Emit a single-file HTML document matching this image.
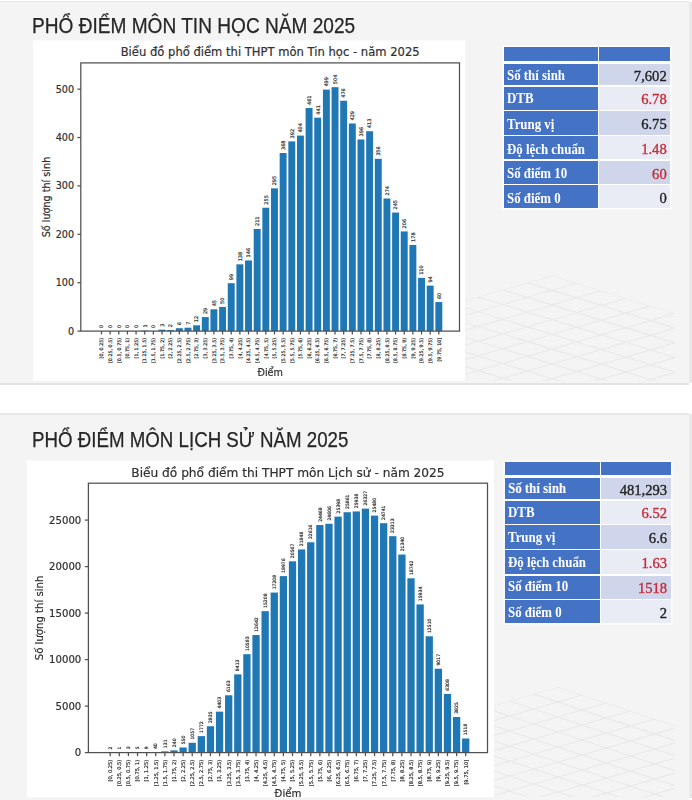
<!DOCTYPE html>
<html><head><meta charset="utf-8"><title>Phổ điểm 2025</title>
<style>
html,body{margin:0;padding:0}
body{width:692px;height:800px;position:relative;overflow:hidden;background:#ffffff;font-family:"Liberation Sans",sans-serif}
.slide{position:absolute;background:#f4f4f4}
.s1{left:0;top:1px;width:689px;height:381px;border-top:1.5px solid #e6e6e6;border-bottom:2.5px solid #e4e4e4}
.s2{left:0;top:412.5px;width:689px;height:385px;border-top:2.5px solid #e8e8e8;border-bottom:2px solid #e6e6e6}
.edge{position:absolute;left:689px;width:3px;background:#e9e9e9}
.ttl{position:absolute;left:31.6px;margin:0;font-weight:normal;color:#262626;white-space:nowrap;line-height:1;transform-origin:0 0;-webkit-text-stroke:0.25px #262626;font-family:"Liberation Sans","DejaVu Sans",sans-serif}
svg{position:absolute;left:0;top:0}
svg text{stroke:#303030;stroke-width:0.2px}
body>*{filter:blur(0.4px)}
.tb{position:absolute;background:#fff;box-shadow:0 0 0 1.5px #fdfdfd}
.c{position:absolute;box-sizing:border-box;white-space:nowrap;overflow:hidden}
.h{background:#4472c4}
.l{background:#4472c4;color:#fff;font-family:"Liberation Serif",serif;font-weight:bold;font-size:14px;padding-left:3.2px;padding-top:2.5px}
.l span{display:inline-block;transform:scaleX(0.92);transform-origin:0 50%}
.v{font-family:"Liberation Serif",serif;font-size:14.6px;text-align:right;padding-right:3.6px;padding-top:2px;-webkit-text-stroke:0.35px currentColor}
</style></head><body>
<div class="slide s1"></div>
<div class="slide s2"></div>
<div class="edge" style="top:2px;height:381px"></div>
<div class="edge" style="top:414px;height:384px"></div>
<h1 class="ttl" style="top:15.6px;font-size:21.5px;transform:scaleX(0.888)">PHỔ ĐIỂM MÔN TIN HỌC NĂM 2025</h1>
<h1 class="ttl" style="top:429.7px;font-size:21.5px;transform:scaleX(0.87)">PHỔ ĐIỂM MÔN LỊCH SỬ NĂM 2025</h1>
<svg width="692" height="800" viewBox="0 0 692 800" font-family='"DejaVu Sans", "Liberation Sans", sans-serif'>
<clipPath id="k1"><rect x="0" y="3" width="689" height="379"/></clipPath><clipPath id="k2"><rect x="0" y="415" width="689" height="382"/></clipPath><g stroke="#e9e9e9" stroke-width="1.1" fill="none" clip-path="url(#k1)"><clipPath id="g1"><polygon points="552,275.5 675,313.38 675,381 440,381 440,308.09"/></clipPath><g clip-path="url(#g1)"><line x1="440" y1="241" x2="675" y2="313.38"/><line x1="440" y1="308.09" x2="675" y2="239.71"/><line x1="440" y1="255.74" x2="675" y2="328.12"/><line x1="440" y1="322.83" x2="675" y2="254.44"/><line x1="440" y1="270.47" x2="675" y2="342.85"/><line x1="440" y1="337.56" x2="675" y2="269.18"/><line x1="440" y1="285.21" x2="675" y2="357.59"/><line x1="440" y1="352.3" x2="675" y2="283.91"/><line x1="440" y1="299.95" x2="675" y2="372.33"/><line x1="440" y1="367.03" x2="675" y2="298.65"/><line x1="440" y1="314.68" x2="675" y2="387.06"/><line x1="440" y1="381.77" x2="675" y2="313.38"/><line x1="440" y1="329.42" x2="675" y2="401.8"/><line x1="440" y1="396.5" x2="675" y2="328.12"/><line x1="440" y1="344.15" x2="675" y2="416.53"/><line x1="440" y1="411.24" x2="675" y2="342.85"/><line x1="440" y1="358.89" x2="675" y2="431.27"/><line x1="440" y1="425.98" x2="675" y2="357.59"/><line x1="440" y1="373.62" x2="675" y2="446"/><line x1="440" y1="440.71" x2="675" y2="372.33"/><line x1="440" y1="388.36" x2="675" y2="460.74"/><line x1="440" y1="455.45" x2="675" y2="387.06"/><line x1="440" y1="403.09" x2="675" y2="475.47"/><line x1="440" y1="470.18" x2="675" y2="401.8"/><line x1="440" y1="417.83" x2="675" y2="490.21"/><line x1="440" y1="484.92" x2="675" y2="416.53"/><line x1="440" y1="432.56" x2="675" y2="504.94"/><line x1="440" y1="499.65" x2="675" y2="431.27"/><line x1="440" y1="447.3" x2="675" y2="519.68"/><line x1="440" y1="514.39" x2="675" y2="446"/><line x1="440" y1="462.04" x2="675" y2="534.41"/><line x1="440" y1="529.12" x2="675" y2="460.74"/><line x1="440" y1="476.77" x2="675" y2="549.15"/><line x1="440" y1="543.86" x2="675" y2="475.47"/><line x1="440" y1="491.51" x2="675" y2="563.89"/><line x1="440" y1="558.59" x2="675" y2="490.21"/><line x1="440" y1="506.24" x2="675" y2="578.62"/><line x1="440" y1="573.33" x2="675" y2="504.94"/></g></g>
<g stroke="#e9e9e9" stroke-width="1.1" fill="none" clip-path="url(#k2)"><clipPath id="g2"><polygon points="558,687 675,725.61 675,797 440,797 440,721.22"/></clipPath><g clip-path="url(#g2)"><line x1="440" y1="648.06" x2="675" y2="725.61"/><line x1="440" y1="721.22" x2="675" y2="653.07"/><line x1="440" y1="663.06" x2="675" y2="740.61"/><line x1="440" y1="736.22" x2="675" y2="668.07"/><line x1="440" y1="678.07" x2="675" y2="755.62"/><line x1="440" y1="751.23" x2="675" y2="683.08"/><line x1="440" y1="693.07" x2="675" y2="770.62"/><line x1="440" y1="766.23" x2="675" y2="698.08"/><line x1="440" y1="708.08" x2="675" y2="785.63"/><line x1="440" y1="781.24" x2="675" y2="713.09"/><line x1="440" y1="723.08" x2="675" y2="800.63"/><line x1="440" y1="796.24" x2="675" y2="728.09"/><line x1="440" y1="738.08" x2="675" y2="815.63"/><line x1="440" y1="811.24" x2="675" y2="743.09"/><line x1="440" y1="753.09" x2="675" y2="830.64"/><line x1="440" y1="826.25" x2="675" y2="758.1"/><line x1="440" y1="768.09" x2="675" y2="845.64"/><line x1="440" y1="841.25" x2="675" y2="773.1"/><line x1="440" y1="783.1" x2="675" y2="860.65"/><line x1="440" y1="856.26" x2="675" y2="788.11"/><line x1="440" y1="798.1" x2="675" y2="875.65"/><line x1="440" y1="871.26" x2="675" y2="803.11"/><line x1="440" y1="813.1" x2="675" y2="890.65"/><line x1="440" y1="886.26" x2="675" y2="818.11"/><line x1="440" y1="828.11" x2="675" y2="905.66"/><line x1="440" y1="901.27" x2="675" y2="833.12"/><line x1="440" y1="843.11" x2="675" y2="920.66"/><line x1="440" y1="916.27" x2="675" y2="848.12"/><line x1="440" y1="858.12" x2="675" y2="935.67"/><line x1="440" y1="931.28" x2="675" y2="863.13"/><line x1="440" y1="873.12" x2="675" y2="950.67"/><line x1="440" y1="946.28" x2="675" y2="878.13"/><line x1="440" y1="888.12" x2="675" y2="965.67"/><line x1="440" y1="961.28" x2="675" y2="893.13"/><line x1="440" y1="903.13" x2="675" y2="980.68"/><line x1="440" y1="976.29" x2="675" y2="908.14"/><line x1="440" y1="918.13" x2="675" y2="995.68"/><line x1="440" y1="991.29" x2="675" y2="923.14"/></g></g>
<rect x="33" y="40.5" width="432" height="340.5" fill="#ffffff"/>
<g fill="#1f77b4"><rect x="141.26" y="330.62" width="6.92" height="0.48"/><rect x="158.56" y="329.65" width="6.92" height="1.45"/><rect x="167.21" y="330.13" width="6.92" height="0.97"/><rect x="175.86" y="328.2" width="6.92" height="2.9"/><rect x="184.51" y="327.71" width="6.92" height="3.39"/><rect x="193.16" y="325.29" width="6.92" height="5.81"/><rect x="201.81" y="317.07" width="6.92" height="14.03"/><rect x="210.46" y="309.32" width="6.92" height="21.78"/><rect x="219.11" y="306.9" width="6.92" height="24.2"/><rect x="227.76" y="283.19" width="6.92" height="47.91"/><rect x="236.41" y="264.32" width="6.92" height="66.78"/><rect x="245.06" y="260.44" width="6.92" height="70.66"/><rect x="253.71" y="228.99" width="6.92" height="102.11"/><rect x="262.36" y="207.7" width="6.92" height="123.4"/><rect x="271.02" y="188.34" width="6.92" height="142.76"/><rect x="279.67" y="153.01" width="6.92" height="178.09"/><rect x="288.32" y="141.4" width="6.92" height="189.7"/><rect x="296.97" y="135.59" width="6.92" height="195.51"/><rect x="305.62" y="108" width="6.92" height="223.1"/><rect x="314.27" y="117.68" width="6.92" height="213.42"/><rect x="322.92" y="89.61" width="6.92" height="241.49"/><rect x="331.57" y="87.19" width="6.92" height="243.91"/><rect x="340.22" y="100.74" width="6.92" height="230.36"/><rect x="348.87" y="123.49" width="6.92" height="207.61"/><rect x="357.52" y="139.46" width="6.92" height="191.64"/><rect x="366.17" y="131.23" width="6.92" height="199.87"/><rect x="374.82" y="158.82" width="6.92" height="172.28"/><rect x="383.47" y="198.5" width="6.92" height="132.6"/><rect x="392.12" y="212.53" width="6.92" height="118.57"/><rect x="400.77" y="231.41" width="6.92" height="99.69"/><rect x="409.42" y="244.96" width="6.92" height="86.14"/><rect x="418.07" y="277.87" width="6.92" height="53.23"/><rect x="426.72" y="285.61" width="6.92" height="45.49"/><rect x="435.37" y="302.06" width="6.92" height="29.04"/></g>
<rect x="80.8" y="62.9" width="378.7" height="268.2" fill="none" stroke="#505050" stroke-width="1.25"/>
<g stroke="#505050" stroke-width="1.25"><line x1="77.43" y1="331.1" x2="80.8" y2="331.1"/><line x1="77.43" y1="282.71" x2="80.8" y2="282.71"/><line x1="77.43" y1="234.31" x2="80.8" y2="234.31"/><line x1="77.43" y1="185.92" x2="80.8" y2="185.92"/><line x1="77.43" y1="137.52" x2="80.8" y2="137.52"/><line x1="77.43" y1="89.13" x2="80.8" y2="89.13"/><line x1="101.47" y1="331.1" x2="101.47" y2="334.47"/><line x1="110.12" y1="331.1" x2="110.12" y2="334.47"/><line x1="118.77" y1="331.1" x2="118.77" y2="334.47"/><line x1="127.42" y1="331.1" x2="127.42" y2="334.47"/><line x1="136.07" y1="331.1" x2="136.07" y2="334.47"/><line x1="144.72" y1="331.1" x2="144.72" y2="334.47"/><line x1="153.37" y1="331.1" x2="153.37" y2="334.47"/><line x1="162.02" y1="331.1" x2="162.02" y2="334.47"/><line x1="170.67" y1="331.1" x2="170.67" y2="334.47"/><line x1="179.32" y1="331.1" x2="179.32" y2="334.47"/><line x1="187.97" y1="331.1" x2="187.97" y2="334.47"/><line x1="196.62" y1="331.1" x2="196.62" y2="334.47"/><line x1="205.27" y1="331.1" x2="205.27" y2="334.47"/><line x1="213.92" y1="331.1" x2="213.92" y2="334.47"/><line x1="222.57" y1="331.1" x2="222.57" y2="334.47"/><line x1="231.22" y1="331.1" x2="231.22" y2="334.47"/><line x1="239.87" y1="331.1" x2="239.87" y2="334.47"/><line x1="248.52" y1="331.1" x2="248.52" y2="334.47"/><line x1="257.17" y1="331.1" x2="257.17" y2="334.47"/><line x1="265.82" y1="331.1" x2="265.82" y2="334.47"/><line x1="274.48" y1="331.1" x2="274.48" y2="334.47"/><line x1="283.13" y1="331.1" x2="283.13" y2="334.47"/><line x1="291.78" y1="331.1" x2="291.78" y2="334.47"/><line x1="300.43" y1="331.1" x2="300.43" y2="334.47"/><line x1="309.08" y1="331.1" x2="309.08" y2="334.47"/><line x1="317.73" y1="331.1" x2="317.73" y2="334.47"/><line x1="326.38" y1="331.1" x2="326.38" y2="334.47"/><line x1="335.03" y1="331.1" x2="335.03" y2="334.47"/><line x1="343.68" y1="331.1" x2="343.68" y2="334.47"/><line x1="352.33" y1="331.1" x2="352.33" y2="334.47"/><line x1="360.98" y1="331.1" x2="360.98" y2="334.47"/><line x1="369.63" y1="331.1" x2="369.63" y2="334.47"/><line x1="378.28" y1="331.1" x2="378.28" y2="334.47"/><line x1="386.93" y1="331.1" x2="386.93" y2="334.47"/><line x1="395.58" y1="331.1" x2="395.58" y2="334.47"/><line x1="404.23" y1="331.1" x2="404.23" y2="334.47"/><line x1="412.88" y1="331.1" x2="412.88" y2="334.47"/><line x1="421.53" y1="331.1" x2="421.53" y2="334.47"/><line x1="430.18" y1="331.1" x2="430.18" y2="334.47"/><line x1="438.83" y1="331.1" x2="438.83" y2="334.47"/></g>
<g font-size="9.64" text-anchor="end" fill="#303030"><text x="74.05" y="334.61">0</text><text x="74.05" y="286.21">100</text><text x="74.05" y="237.82">200</text><text x="74.05" y="189.43">300</text><text x="74.05" y="141.03">400</text><text x="74.05" y="92.64">500</text></g>
<g font-size="4.82" text-anchor="end" fill="#303030"><text transform="translate(103.21 337.85) rotate(-90)">[0, 0.25)</text><text transform="translate(111.86 337.85) rotate(-90)">[0.25, 0.5)</text><text transform="translate(120.51 337.85) rotate(-90)">[0.5, 0.75)</text><text transform="translate(129.16 337.85) rotate(-90)">[0.75, 1)</text><text transform="translate(137.81 337.85) rotate(-90)">[1, 1.25)</text><text transform="translate(146.46 337.85) rotate(-90)">[1.25, 1.5)</text><text transform="translate(155.11 337.85) rotate(-90)">[1.5, 1.75)</text><text transform="translate(163.76 337.85) rotate(-90)">[1.75, 2)</text><text transform="translate(172.41 337.85) rotate(-90)">[2, 2.25)</text><text transform="translate(181.06 337.85) rotate(-90)">[2.25, 2.5)</text><text transform="translate(189.71 337.85) rotate(-90)">[2.5, 2.75)</text><text transform="translate(198.36 337.85) rotate(-90)">[2.75, 3)</text><text transform="translate(207.01 337.85) rotate(-90)">[3, 3.25)</text><text transform="translate(215.66 337.85) rotate(-90)">[3.25, 3.5)</text><text transform="translate(224.31 337.85) rotate(-90)">[3.5, 3.75)</text><text transform="translate(232.96 337.85) rotate(-90)">[3.75, 4)</text><text transform="translate(241.61 337.85) rotate(-90)">[4, 4.25)</text><text transform="translate(250.26 337.85) rotate(-90)">[4.25, 4.5)</text><text transform="translate(258.91 337.85) rotate(-90)">[4.5, 4.75)</text><text transform="translate(267.56 337.85) rotate(-90)">[4.75, 5)</text><text transform="translate(276.21 337.85) rotate(-90)">[5, 5.25)</text><text transform="translate(284.86 337.85) rotate(-90)">[5.25, 5.5)</text><text transform="translate(293.51 337.85) rotate(-90)">[5.5, 5.75)</text><text transform="translate(302.16 337.85) rotate(-90)">[5.75, 6)</text><text transform="translate(310.81 337.85) rotate(-90)">[6, 6.25)</text><text transform="translate(319.46 337.85) rotate(-90)">[6.25, 6.5)</text><text transform="translate(328.11 337.85) rotate(-90)">[6.5, 6.75)</text><text transform="translate(336.76 337.85) rotate(-90)">[6.75, 7)</text><text transform="translate(345.41 337.85) rotate(-90)">[7, 7.25)</text><text transform="translate(354.06 337.85) rotate(-90)">[7.25, 7.5)</text><text transform="translate(362.71 337.85) rotate(-90)">[7.5, 7.75)</text><text transform="translate(371.36 337.85) rotate(-90)">[7.75, 8)</text><text transform="translate(380.01 337.85) rotate(-90)">[8, 8.25)</text><text transform="translate(388.66 337.85) rotate(-90)">[8.25, 8.5)</text><text transform="translate(397.31 337.85) rotate(-90)">[8.5, 8.75)</text><text transform="translate(405.96 337.85) rotate(-90)">[8.75, 9)</text><text transform="translate(414.61 337.85) rotate(-90)">[9, 9.25)</text><text transform="translate(423.26 337.85) rotate(-90)">[9.25, 9.5)</text><text transform="translate(431.91 337.85) rotate(-90)">[9.5, 9.75)</text><text transform="translate(440.56 337.85) rotate(-90)">[9.75, 10]</text></g>
<g font-size="5.01" text-anchor="start" fill="#303030"><text transform="translate(103.28 328.1) rotate(-90)">0</text><text transform="translate(111.93 328.1) rotate(-90)">0</text><text transform="translate(120.58 328.1) rotate(-90)">0</text><text transform="translate(129.23 328.1) rotate(-90)">0</text><text transform="translate(137.88 328.1) rotate(-90)">0</text><text transform="translate(146.53 327.62) rotate(-90)">1</text><text transform="translate(155.18 328.1) rotate(-90)">0</text><text transform="translate(163.83 326.65) rotate(-90)">3</text><text transform="translate(172.48 327.13) rotate(-90)">2</text><text transform="translate(181.13 325.2) rotate(-90)">6</text><text transform="translate(189.78 324.71) rotate(-90)">7</text><text transform="translate(198.43 322.29) rotate(-90)">12</text><text transform="translate(207.08 314.07) rotate(-90)">29</text><text transform="translate(215.73 306.32) rotate(-90)">45</text><text transform="translate(224.38 303.9) rotate(-90)">50</text><text transform="translate(233.03 280.19) rotate(-90)">99</text><text transform="translate(241.68 261.32) rotate(-90)">138</text><text transform="translate(250.33 257.44) rotate(-90)">146</text><text transform="translate(258.98 225.99) rotate(-90)">211</text><text transform="translate(267.63 204.7) rotate(-90)">255</text><text transform="translate(276.28 185.34) rotate(-90)">295</text><text transform="translate(284.93 150.01) rotate(-90)">368</text><text transform="translate(293.58 138.4) rotate(-90)">392</text><text transform="translate(302.23 132.59) rotate(-90)">404</text><text transform="translate(310.88 105) rotate(-90)">461</text><text transform="translate(319.53 114.68) rotate(-90)">441</text><text transform="translate(328.18 86.61) rotate(-90)">499</text><text transform="translate(336.83 84.19) rotate(-90)">504</text><text transform="translate(345.48 97.74) rotate(-90)">476</text><text transform="translate(354.13 120.49) rotate(-90)">429</text><text transform="translate(362.78 136.46) rotate(-90)">396</text><text transform="translate(371.43 128.23) rotate(-90)">413</text><text transform="translate(380.08 155.82) rotate(-90)">356</text><text transform="translate(388.73 195.5) rotate(-90)">274</text><text transform="translate(397.38 209.53) rotate(-90)">245</text><text transform="translate(406.03 228.41) rotate(-90)">206</text><text transform="translate(414.68 241.96) rotate(-90)">178</text><text transform="translate(423.33 274.87) rotate(-90)">110</text><text transform="translate(431.98 282.61) rotate(-90)">94</text><text transform="translate(440.63 299.06) rotate(-90)">60</text></g>
<text x="270.15" y="56.4" font-size="11.57" text-anchor="middle" fill="#303030">Biểu đồ phổ điểm thi THPT môn Tin học - năm 2025</text>
<text transform="translate(50 197) rotate(-90)" font-size="9.64" text-anchor="middle" fill="#303030">Số lượng thí sinh</text>
<text x="270.15" y="375.5" font-size="9.64" text-anchor="middle" fill="#303030">Điểm</text>
<rect x="27" y="460.5" width="467" height="336.7" fill="#ffffff"/>
<g fill="#1f77b4"><rect x="106.54" y="752.58" width="7.29" height="0.02"/><rect x="115.66" y="752.59" width="7.29" height="0.01"/><rect x="124.77" y="752.57" width="7.29" height="0.03"/><rect x="133.89" y="752.55" width="7.29" height="0.05"/><rect x="143.01" y="752.52" width="7.29" height="0.08"/><rect x="152.12" y="752.23" width="7.29" height="0.37"/><rect x="161.24" y="751.38" width="7.29" height="1.22"/><rect x="170.35" y="750.37" width="7.29" height="2.23"/><rect x="179.47" y="747.49" width="7.29" height="5.11"/><rect x="188.59" y="742.77" width="7.29" height="9.83"/><rect x="197.7" y="736.12" width="7.29" height="16.48"/><rect x="206.82" y="726.23" width="7.29" height="26.37"/><rect x="215.93" y="711.65" width="7.29" height="40.95"/><rect x="225.05" y="695.28" width="7.29" height="57.32"/><rect x="234.17" y="674.36" width="7.29" height="78.24"/><rect x="243.28" y="654.18" width="7.29" height="98.42"/><rect x="252.4" y="635.03" width="7.29" height="117.57"/><rect x="261.51" y="611.17" width="7.29" height="141.43"/><rect x="270.63" y="592.57" width="7.29" height="160.03"/><rect x="279.75" y="576.12" width="7.29" height="176.48"/><rect x="288.86" y="561.33" width="7.29" height="191.27"/><rect x="297.98" y="549.42" width="7.29" height="203.18"/><rect x="307.09" y="542.27" width="7.29" height="210.33"/><rect x="316.21" y="525.05" width="7.29" height="227.55"/><rect x="325.33" y="523.77" width="7.29" height="228.83"/><rect x="334.44" y="516.61" width="7.29" height="235.99"/><rect x="343.56" y="512.22" width="7.29" height="240.38"/><rect x="352.67" y="511.43" width="7.29" height="241.17"/><rect x="361.79" y="508.63" width="7.29" height="243.97"/><rect x="370.91" y="515.61" width="7.29" height="236.99"/><rect x="380.02" y="523.19" width="7.29" height="229.41"/><rect x="389.14" y="536.17" width="7.29" height="216.43"/><rect x="398.25" y="554.53" width="7.29" height="198.07"/><rect x="407.37" y="578.3" width="7.29" height="174.3"/><rect x="416.49" y="604.42" width="7.29" height="148.18"/><rect x="425.6" y="636.26" width="7.29" height="116.34"/><rect x="434.72" y="668.74" width="7.29" height="83.86"/><rect x="443.83" y="693.94" width="7.29" height="58.66"/><rect x="452.95" y="717.03" width="7.29" height="35.57"/><rect x="462.07" y="738.48" width="7.29" height="14.12"/></g>
<rect x="88.4" y="483.2" width="399.1" height="269.4" fill="none" stroke="#505050" stroke-width="1.25"/>
<g stroke="#505050" stroke-width="1.25"><line x1="84.85" y1="752.6" x2="88.4" y2="752.6"/><line x1="84.85" y1="706.1" x2="88.4" y2="706.1"/><line x1="84.85" y1="659.6" x2="88.4" y2="659.6"/><line x1="84.85" y1="613.1" x2="88.4" y2="613.1"/><line x1="84.85" y1="566.6" x2="88.4" y2="566.6"/><line x1="84.85" y1="520.1" x2="88.4" y2="520.1"/><line x1="110.19" y1="752.6" x2="110.19" y2="756.15"/><line x1="119.3" y1="752.6" x2="119.3" y2="756.15"/><line x1="128.42" y1="752.6" x2="128.42" y2="756.15"/><line x1="137.54" y1="752.6" x2="137.54" y2="756.15"/><line x1="146.65" y1="752.6" x2="146.65" y2="756.15"/><line x1="155.77" y1="752.6" x2="155.77" y2="756.15"/><line x1="164.88" y1="752.6" x2="164.88" y2="756.15"/><line x1="174" y1="752.6" x2="174" y2="756.15"/><line x1="183.12" y1="752.6" x2="183.12" y2="756.15"/><line x1="192.23" y1="752.6" x2="192.23" y2="756.15"/><line x1="201.35" y1="752.6" x2="201.35" y2="756.15"/><line x1="210.46" y1="752.6" x2="210.46" y2="756.15"/><line x1="219.58" y1="752.6" x2="219.58" y2="756.15"/><line x1="228.7" y1="752.6" x2="228.7" y2="756.15"/><line x1="237.81" y1="752.6" x2="237.81" y2="756.15"/><line x1="246.93" y1="752.6" x2="246.93" y2="756.15"/><line x1="256.04" y1="752.6" x2="256.04" y2="756.15"/><line x1="265.16" y1="752.6" x2="265.16" y2="756.15"/><line x1="274.28" y1="752.6" x2="274.28" y2="756.15"/><line x1="283.39" y1="752.6" x2="283.39" y2="756.15"/><line x1="292.51" y1="752.6" x2="292.51" y2="756.15"/><line x1="301.62" y1="752.6" x2="301.62" y2="756.15"/><line x1="310.74" y1="752.6" x2="310.74" y2="756.15"/><line x1="319.86" y1="752.6" x2="319.86" y2="756.15"/><line x1="328.97" y1="752.6" x2="328.97" y2="756.15"/><line x1="338.09" y1="752.6" x2="338.09" y2="756.15"/><line x1="347.2" y1="752.6" x2="347.2" y2="756.15"/><line x1="356.32" y1="752.6" x2="356.32" y2="756.15"/><line x1="365.44" y1="752.6" x2="365.44" y2="756.15"/><line x1="374.55" y1="752.6" x2="374.55" y2="756.15"/><line x1="383.67" y1="752.6" x2="383.67" y2="756.15"/><line x1="392.78" y1="752.6" x2="392.78" y2="756.15"/><line x1="401.9" y1="752.6" x2="401.9" y2="756.15"/><line x1="411.02" y1="752.6" x2="411.02" y2="756.15"/><line x1="420.13" y1="752.6" x2="420.13" y2="756.15"/><line x1="429.25" y1="752.6" x2="429.25" y2="756.15"/><line x1="438.36" y1="752.6" x2="438.36" y2="756.15"/><line x1="447.48" y1="752.6" x2="447.48" y2="756.15"/><line x1="456.6" y1="752.6" x2="456.6" y2="756.15"/><line x1="465.71" y1="752.6" x2="465.71" y2="756.15"/></g>
<g font-size="10.15" text-anchor="end" fill="#303030"><text x="81.3" y="756.29">0</text><text x="81.3" y="709.8">5000</text><text x="81.3" y="663.3">10000</text><text x="81.3" y="616.8">15000</text><text x="81.3" y="570.3">20000</text><text x="81.3" y="523.8">25000</text></g>
<g font-size="5.07" text-anchor="end" fill="#303030"><text transform="translate(112.01 759.71) rotate(-90)">[0, 0.25)</text><text transform="translate(121.13 759.71) rotate(-90)">[0.25, 0.5)</text><text transform="translate(130.25 759.71) rotate(-90)">[0.5, 0.75)</text><text transform="translate(139.36 759.71) rotate(-90)">[0.75, 1)</text><text transform="translate(148.48 759.71) rotate(-90)">[1, 1.25)</text><text transform="translate(157.59 759.71) rotate(-90)">[1.25, 1.5)</text><text transform="translate(166.71 759.71) rotate(-90)">[1.5, 1.75)</text><text transform="translate(175.83 759.71) rotate(-90)">[1.75, 2)</text><text transform="translate(184.94 759.71) rotate(-90)">[2, 2.25)</text><text transform="translate(194.06 759.71) rotate(-90)">[2.25, 2.5)</text><text transform="translate(203.17 759.71) rotate(-90)">[2.5, 2.75)</text><text transform="translate(212.29 759.71) rotate(-90)">[2.75, 3)</text><text transform="translate(221.41 759.71) rotate(-90)">[3, 3.25)</text><text transform="translate(230.52 759.71) rotate(-90)">[3.25, 3.5)</text><text transform="translate(239.64 759.71) rotate(-90)">[3.5, 3.75)</text><text transform="translate(248.75 759.71) rotate(-90)">[3.75, 4)</text><text transform="translate(257.87 759.71) rotate(-90)">[4, 4.25)</text><text transform="translate(266.99 759.71) rotate(-90)">[4.25, 4.5)</text><text transform="translate(276.1 759.71) rotate(-90)">[4.5, 4.75)</text><text transform="translate(285.22 759.71) rotate(-90)">[4.75, 5)</text><text transform="translate(294.34 759.71) rotate(-90)">[5, 5.25)</text><text transform="translate(303.45 759.71) rotate(-90)">[5.25, 5.5)</text><text transform="translate(312.57 759.71) rotate(-90)">[5.5, 5.75)</text><text transform="translate(321.68 759.71) rotate(-90)">[5.75, 6)</text><text transform="translate(330.8 759.71) rotate(-90)">[6, 6.25)</text><text transform="translate(339.92 759.71) rotate(-90)">[6.25, 6.5)</text><text transform="translate(349.03 759.71) rotate(-90)">[6.5, 6.75)</text><text transform="translate(358.15 759.71) rotate(-90)">[6.75, 7)</text><text transform="translate(367.26 759.71) rotate(-90)">[7, 7.25)</text><text transform="translate(376.38 759.71) rotate(-90)">[7.25, 7.5)</text><text transform="translate(385.5 759.71) rotate(-90)">[7.5, 7.75)</text><text transform="translate(394.61 759.71) rotate(-90)">[7.75, 8)</text><text transform="translate(403.73 759.71) rotate(-90)">[8, 8.25)</text><text transform="translate(412.84 759.71) rotate(-90)">[8.25, 8.5)</text><text transform="translate(421.96 759.71) rotate(-90)">[8.5, 8.75)</text><text transform="translate(431.08 759.71) rotate(-90)">[8.75, 9)</text><text transform="translate(440.19 759.71) rotate(-90)">[9, 9.25)</text><text transform="translate(449.31 759.71) rotate(-90)">[9.25, 9.5)</text><text transform="translate(458.42 759.71) rotate(-90)">[9.5, 9.75)</text><text transform="translate(467.54 759.71) rotate(-90)">[9.75, 10]</text></g>
<g font-size="4.57" text-anchor="start" fill="#303030"><text transform="translate(111.83 749.38) rotate(-90)">2</text><text transform="translate(120.95 749.39) rotate(-90)">1</text><text transform="translate(130.06 749.37) rotate(-90)">3</text><text transform="translate(139.18 749.35) rotate(-90)">5</text><text transform="translate(148.3 749.32) rotate(-90)">9</text><text transform="translate(157.41 749.03) rotate(-90)">40</text><text transform="translate(166.53 748.18) rotate(-90)">131</text><text transform="translate(175.64 747.17) rotate(-90)">240</text><text transform="translate(184.76 744.29) rotate(-90)">550</text><text transform="translate(193.88 739.57) rotate(-90)">1057</text><text transform="translate(202.99 732.92) rotate(-90)">1772</text><text transform="translate(212.11 723.03) rotate(-90)">2835</text><text transform="translate(221.22 708.45) rotate(-90)">4403</text><text transform="translate(230.34 692.08) rotate(-90)">6163</text><text transform="translate(239.46 671.16) rotate(-90)">8413</text><text transform="translate(248.57 650.98) rotate(-90)">10583</text><text transform="translate(257.69 631.83) rotate(-90)">12642</text><text transform="translate(266.8 607.97) rotate(-90)">15208</text><text transform="translate(275.92 589.37) rotate(-90)">17208</text><text transform="translate(285.04 572.92) rotate(-90)">18976</text><text transform="translate(294.15 558.13) rotate(-90)">20567</text><text transform="translate(303.27 546.22) rotate(-90)">21848</text><text transform="translate(312.38 539.07) rotate(-90)">22616</text><text transform="translate(321.5 521.85) rotate(-90)">24468</text><text transform="translate(330.62 520.57) rotate(-90)">24606</text><text transform="translate(339.73 513.41) rotate(-90)">25398</text><text transform="translate(348.85 509.02) rotate(-90)">25861</text><text transform="translate(357.96 508.23) rotate(-90)">25938</text><text transform="translate(367.08 505.43) rotate(-90)">26327</text><text transform="translate(376.2 512.41) rotate(-90)">25480</text><text transform="translate(385.31 519.99) rotate(-90)">24741</text><text transform="translate(394.43 532.97) rotate(-90)">23313</text><text transform="translate(403.54 551.33) rotate(-90)">21340</text><text transform="translate(412.66 575.1) rotate(-90)">18742</text><text transform="translate(421.78 601.22) rotate(-90)">15934</text><text transform="translate(430.89 633.06) rotate(-90)">12510</text><text transform="translate(440.01 665.54) rotate(-90)">9017</text><text transform="translate(449.12 690.74) rotate(-90)">6308</text><text transform="translate(458.24 713.83) rotate(-90)">3825</text><text transform="translate(467.36 735.28) rotate(-90)">1518</text></g>
<text x="287.95" y="477.4" font-size="12.18" text-anchor="middle" fill="#303030">Biểu đồ phổ điểm thi THPT môn Lịch sử - năm 2025</text>
<text transform="translate(43.1 617.9) rotate(-90)" font-size="10.15" text-anchor="middle" fill="#303030">Số lượng thí sinh</text>
<text x="287.95" y="796.5" font-size="10.15" text-anchor="middle" fill="#303030">Điểm</text>
</svg>
<div class="tb" style="left:504px;top:47.3px;width:166.3px;height:161.2px">
<div class="c h" style="left:0;top:0;width:93.8px;height:13.5px"></div>
<div class="c h" style="left:95.4px;top:0;width:70.9px;height:13.5px"></div>
<div class="c l" style="left:0;top:16.9px;width:93.8px;height:20.9px;line-height:20.9px;padding-top:1.5px"><span>Số thí sinh</span></div>
<div class="c v" style="left:95.4px;top:16.9px;width:70.9px;height:20.9px;line-height:20.9px;padding-top:1.5px;background:#cfd5ea;color:#1e1e1e">7,602</div>
<div class="c l" style="left:0;top:39.4px;width:93.8px;height:22.9px;line-height:22.9px;padding-top:1.5px"><span>DTB</span></div>
<div class="c v" style="left:95.4px;top:39.4px;width:70.9px;height:22.9px;line-height:22.9px;padding-top:1.5px;background:#e9ebf5;color:#c42b35">6.78</div>
<div class="c l" style="left:0;top:63.9px;width:93.8px;height:23.6px;line-height:23.6px;padding-top:1.5px"><span>Trung vị</span></div>
<div class="c v" style="left:95.4px;top:63.9px;width:70.9px;height:23.6px;line-height:23.6px;padding-top:1.5px;background:#cfd5ea;color:#1e1e1e">6.75</div>
<div class="c l" style="left:0;top:89.1px;width:93.8px;height:23.1px;line-height:23.1px;padding-top:1.5px"><span>Độ lệch chuẩn</span></div>
<div class="c v" style="left:95.4px;top:89.1px;width:70.9px;height:23.1px;line-height:23.1px;padding-top:1.5px;background:#e9ebf5;color:#c42b35">1.48</div>
<div class="c l" style="left:0;top:113.8px;width:93.8px;height:22.5px;line-height:22.5px;padding-top:1.5px"><span>Số điểm 10</span></div>
<div class="c v" style="left:95.4px;top:113.8px;width:70.9px;height:22.5px;line-height:22.5px;padding-top:1.5px;background:#cfd5ea;color:#c42b35">60</div>
<div class="c l" style="left:0;top:137.9px;width:93.8px;height:23.3px;line-height:23.3px;padding-top:1.5px"><span>Số điểm 0</span></div>
<div class="c v" style="left:95.4px;top:137.9px;width:70.9px;height:23.3px;line-height:23.3px;padding-top:1.5px;background:#e9ebf5;color:#1e1e1e">0</div>
</div>
<div class="tb" style="left:504.5px;top:461.6px;width:166.2px;height:161.9px">
<div class="c h" style="left:0;top:0;width:95px;height:13.5px"></div>
<div class="c h" style="left:96.6px;top:0;width:69.6px;height:13.5px"></div>
<div class="c l" style="left:0;top:16.7px;width:95px;height:20.7px;line-height:20.7px;padding-top:0.8px"><span>Số thí sinh</span></div>
<div class="c v" style="left:96.6px;top:16.7px;width:69.6px;height:20.7px;line-height:20.7px;padding-top:1.6px;background:#cfd5ea;color:#1e1e1e">481,293</div>
<div class="c l" style="left:0;top:39px;width:95px;height:23.2px;line-height:23.2px;padding-top:0.8px"><span>DTB</span></div>
<div class="c v" style="left:96.6px;top:39px;width:69.6px;height:23.2px;line-height:23.2px;padding-top:1.6px;background:#e9ebf5;color:#c42b35">6.52</div>
<div class="c l" style="left:0;top:63.8px;width:95px;height:23.3px;line-height:23.3px;padding-top:0.8px"><span>Trung vị</span></div>
<div class="c v" style="left:96.6px;top:63.8px;width:69.6px;height:23.3px;line-height:23.3px;padding-top:1.6px;background:#cfd5ea;color:#1e1e1e">6.6</div>
<div class="c l" style="left:0;top:88.7px;width:95px;height:23.8px;line-height:23.8px;padding-top:0.8px"><span>Độ lệch chuẩn</span></div>
<div class="c v" style="left:96.6px;top:88.7px;width:69.6px;height:23.8px;line-height:23.8px;padding-top:1.6px;background:#e9ebf5;color:#c42b35">1.63</div>
<div class="c l" style="left:0;top:114.1px;width:95px;height:22.9px;line-height:22.9px;padding-top:0.8px"><span>Số điểm 10</span></div>
<div class="c v" style="left:96.6px;top:114.1px;width:69.6px;height:22.9px;line-height:22.9px;padding-top:1.6px;background:#cfd5ea;color:#c42b35">1518</div>
<div class="c l" style="left:0;top:138.6px;width:95px;height:23.3px;line-height:23.3px;padding-top:0.8px"><span>Số điểm 0</span></div>
<div class="c v" style="left:96.6px;top:138.6px;width:69.6px;height:23.3px;line-height:23.3px;padding-top:1.6px;background:#e9ebf5;color:#1e1e1e">2</div>
</div>
</body></html>
